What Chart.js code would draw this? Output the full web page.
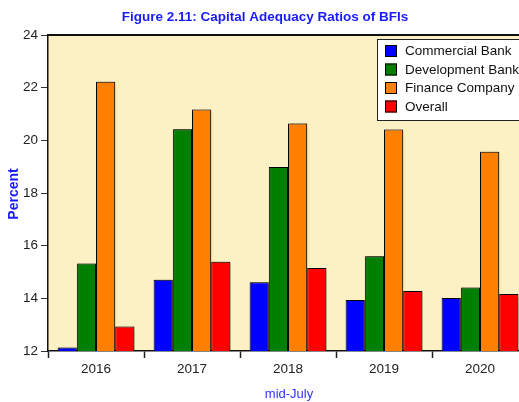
<!DOCTYPE html>
<html>
<head>
<meta charset="utf-8">
<script src="https://cdn.jsdelivr.net/npm/chart.js@4"></script>
<style>
  html, body { margin: 0; padding: 0; background: #fff; overflow: hidden; }
  #wrap { width: 519px; height: 402px; overflow: hidden; position: relative; }
  canvas { display: block; }
</style>
</head>
<body>
<div id="wrap"><canvas id="myChart" width="540" height="402" style="width:540px;height:402px"></canvas></div>
<script>
const years = ['2016', '2017', '2018', '2019', '2020'];
const commercialBank = [12.13, 14.71, 14.61, 13.94, 14.01];
const developmentBank = [15.32, 20.42, 18.99, 15.60, 14.41];
const financeCompany = [22.22, 21.17, 20.64, 20.41, 19.57];
const overall = [12.93, 15.39, 15.15, 14.28, 14.16];
const yTicks = [12, 14, 16, 18, 20, 22, 24];

const FONT = '"Liberation Sans", Arial, sans-serif';
const ctx = document.getElementById('myChart').getContext('2d');

// plot background, bar shadow, title texts and the boxed legend
const decor = {
    id: 'decor',
    beforeDraw(chart) {
        const a = chart.chartArea;
        const c = chart.ctx;
        c.save();
        c.fillStyle = '#fcf1c5';
        c.fillRect(a.left, a.top, a.right - a.left, a.bottom - a.top);
        c.restore();
    },
    beforeDatasetsDraw(chart) {
        const c = chart.ctx;
        c.save();
        c.shadowColor = 'rgba(0,0,0,0.35)';
        c.shadowOffsetX = 1.5;
        c.shadowOffsetY = -1;
        c.shadowBlur = 1;
    },
    afterDatasetsDraw(chart) {
        chart.ctx.restore();
    },
    afterDraw(chart) {
        const a = chart.chartArea;
        const c = chart.ctx;
        c.save();
        // top border of plot
        c.strokeStyle = '#111';
        c.lineWidth = 2;
        c.beginPath();
        c.moveTo(a.left, a.top);
        c.lineTo(a.right + 5, a.top);
        c.stroke();

        c.fillStyle = '#1a1aff';
        c.textAlign = 'center';
        c.textBaseline = 'middle';
        c.font = 'bold 13.5px ' + FONT;
        c.fillText('Figure 2.11: Capital Adequacy Ratios of BFIs', 265, 17);

        c.fillStyle = '#3030ff';
        c.font = '13px ' + FONT;
        c.fillText('mid-July', 289, 394);

        c.save();
        c.translate(14, 194);
        c.rotate(-Math.PI / 2);
        c.fillStyle = '#1a1aff';
        c.font = 'bold 14px ' + FONT;
        c.fillText('Percent', 0, 0);
        c.restore();

        // legend box
        const lx = 377, ly = 39, lw = 170, lh = 81;
        c.fillStyle = '#ffffff';
        c.fillRect(lx, ly, lw, lh);
        c.strokeStyle = '#222';
        c.lineWidth = 1;
        c.strokeRect(lx + 0.5, ly + 0.5, lw, lh);
        c.textAlign = 'left';
        c.font = '13.5px ' + FONT;
        chart.data.datasets.forEach((ds, i) => {
            const cy = 51 + i * 18.5;
            c.fillStyle = ds.backgroundColor;
            c.fillRect(385, cy - 6, 12, 12);
            c.strokeStyle = '#000';
            c.strokeRect(385.5, cy - 5.5, 11, 11);
            c.fillStyle = '#111';
            c.fillText(ds.label, 405, cy + 0.5);
        });
        c.restore();
    }
};

function barSet(label, data, color) {
    return {
        label: label,
        data: data,
        backgroundColor: color,
        borderColor: '#000',
        borderWidth: 1,
        borderSkipped: 'bottom',
        categoryPercentage: 0.8,
        barPercentage: 1.0
    };
}

new Chart(ctx, {
    type: 'bar',
    data: {
        labels: years,
        datasets: [
            barSet('Commercial Bank', commercialBank, '#0000ff'),
            barSet('Development Bank', developmentBank, '#007f00'),
            barSet('Finance Company', financeCompany, '#ff8000'),
            barSet('Overall', overall, '#ff0000')
        ]
    },
    options: {
        responsive: false,
        animation: false,
        events: [],
        layout: { padding: { top: 35, right: 12, bottom: 0, left: 0 } },
        plugins: {
            legend: { display: false },
            title: { display: false },
            tooltip: { enabled: false }
        },
        scales: {
            x: {
                grid: {
                    offset: true,
                    drawOnChartArea: false,
                    drawTicks: true,
                    tickLength: 7,
                    tickColor: '#222',
                    tickWidth: 1.5
                },
                border: { display: true, color: '#111', width: 1.5 },
                ticks: {
                    color: '#222',
                    padding: 3,
                    font: { family: FONT, size: 13.5 }
                },
                afterFit(scale) { scale.height = 51; }
            },
            y: {
                min: 12,
                max: 24,
                afterBuildTicks(scale) {
                    scale.ticks = yTicks.map(v => ({ value: v }));
                },
                grid: {
                    drawOnChartArea: false,
                    drawTicks: true,
                    tickLength: 7,
                    tickColor: '#333',
                    tickWidth: 1
                },
                border: { display: true, color: '#111', width: 1.5 },
                ticks: {
                    color: '#222',
                    padding: 3,
                    font: { family: FONT, size: 13.5 }
                },
                afterFit(scale) { scale.width = 48; }
            }
        }
    },
    plugins: [decor]
});
</script>
</body>
</html>
